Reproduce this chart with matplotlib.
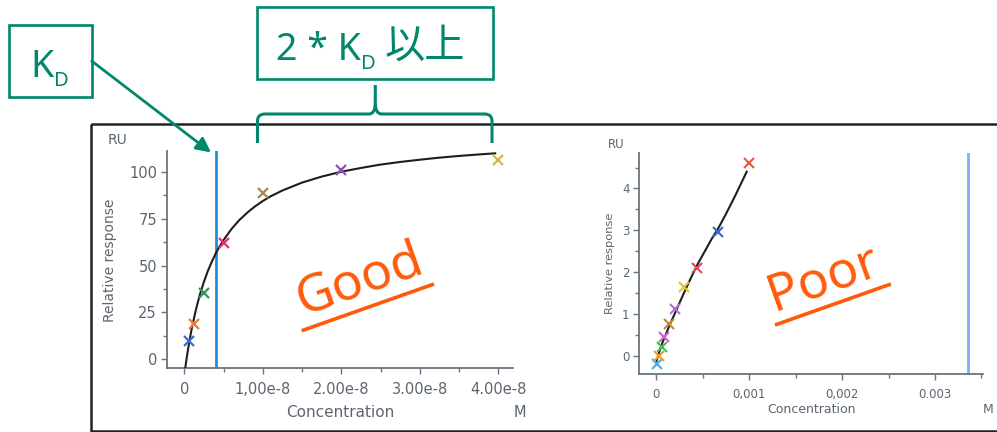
import matplotlib
matplotlib.use("Agg")
import matplotlib.pyplot as plt
from matplotlib.patches import Rectangle, FancyArrowPatch, PathPatch
from matplotlib.path import Path
from matplotlib.ticker import MultipleLocator, FixedLocator

plt.rcParams['font.family'] = ['DejaVu Sans']

# ---- data ----
# left panel (good fit), concentration in M
good_conc = [0.0625e-8, 0.125e-8, 0.25e-8, 0.5e-8, 1.0e-8, 2.0e-8, 4.0e-8]
good_resp = [9.9, 18.8, 35.5, 62.2, 88.8, 100.9, 106.2]
good_colors = ['#3a6fd0', '#f07a3a', '#2e9a55', '#e0307e', '#a88a4a', '#9050b0', '#d4b83a']
good_fit_conc = [0.012e-8, 0.03e-8, 0.05e-8, 0.0625e-8, 0.08e-8, 0.1e-8, 0.15e-8, 0.2e-8,
                 0.25e-8, 0.3e-8, 0.35e-8, 0.4e-8, 0.45e-8, 0.5e-8, 0.6e-8, 0.7e-8,
                 0.8e-8, 0.9e-8, 1.0e-8, 1.1e-8, 1.25e-8, 1.5e-8, 1.75e-8, 2.0e-8,
                 2.25e-8, 2.5e-8, 2.75e-8, 3.0e-8, 3.25e-8, 3.5e-8, 3.75e-8, 3.96e-8]
good_fit_resp = [-4.6, 0.5, 5.9, 9.0, 13.1, 17.4, 26.8, 34.7,
                 41.3, 47.1, 52.0, 56.4, 60.2, 63.6, 69.4, 74.2,
                 78.1, 81.5, 84.4, 86.9, 90.0, 94.2, 97.4, 100.0,
                 102.0, 103.8, 105.2, 106.4, 107.5, 108.4, 109.2, 109.8]
good_kd = 0.404e-8
good_xticks = [0, 1e-8, 2e-8, 3e-8, 4e-8]
good_xticklabels = ['0', '1,00e-8', '2.00e-8', '3.00e-8', '4.00e-8']
good_yticks = [0, 25, 50, 75, 100]

# right panel (poor fit)
poor_conc = [1.4e-5, 3.5e-5, 6.1e-5, 8.6e-5, 1.4e-4, 2.0e-4, 3.0e-4, 4.45e-4, 6.7e-4, 1.0e-3]
poor_resp = [-0.2, 0.0, 0.2, 0.44, 0.76, 1.11, 1.65, 2.09, 2.96, 4.61]
poor_colors = ['#4aaee0', '#f09a30', '#48c048', '#d060d0', '#c08a2a', '#b070d0',
               '#d8c830', '#e04858', '#3a64d0', '#e8583a']
poor_fit_conc = [0.0, 2.5e-5, 5e-5, 7.5e-5, 1e-4, 1.5e-4, 2e-4, 2.5e-4, 3e-4, 3.75e-4,
                 4.5e-4, 5.25e-4, 6e-4, 6.7e-4, 7.5e-4, 8.5e-4, 9.75e-4]
poor_fit_resp = [-0.16, 0.02, 0.2, 0.35, 0.48, 0.75, 1.0, 1.25, 1.5, 1.86,
                 2.2, 2.5, 2.8, 3.05, 3.38, 3.82, 4.4]
poor_kd = 0.003358
poor_xticks = [0, 0.001, 0.002, 0.003]
poor_xticklabels = ['0', '0,001', '0,002', '0.003']
poor_yticks = [0, 1, 2, 3, 4]

W, H = 997, 432
fig = plt.figure(figsize=(W / 100, H / 100), dpi=100)

gray = '#5b6570'
teal = '#00876c'
orange = '#ff5a0a'


def style_axes(ax, fs):
    for s in ['top', 'right']:
        ax.spines[s].set_visible(False)
    for s in ['left', 'bottom']:
        ax.spines[s].set_color('#6a747e')
        ax.spines[s].set_linewidth(1.3)
    ax.tick_params(which='major', length=4, width=1, color='#6a747e',
                   labelcolor=gray, labelsize=fs, pad=3)
    ax.tick_params(which='minor', length=3, width=1, color='#6a747e')
    ax.set_facecolor('none')


def px_axes(x0, x1, y0, y1):
    # pixel box -> figure fraction
    return fig.add_axes([x0 / W, (H - y1) / H, (x1 - x0) / W, (y1 - y0) / H])


# ---- left chart ----
ax1 = px_axes(166.7, 513, 150.7, 368)
style_axes(ax1, 10.5)
ax1.set_xlim(-0.224e-8, 4.187e-8)
ax1.set_ylim(-4.6, 111.2)
ax1.plot(good_fit_conc, good_fit_resp, color='#1e1e1e', lw=1.5, zorder=3)
for c, r, col in zip(good_conc, good_resp, good_colors):
    ax1.plot(c, r, marker='x', ms=7, mew=1.6, color=col, ls='none', zorder=4, clip_on=False)
ax1.axvline(good_kd, color='#1e90d8', lw=2, zorder=2)
ax1.xaxis.set_major_locator(FixedLocator(good_xticks))
ax1.set_xticklabels(good_xticklabels)
ax1.xaxis.set_minor_locator(MultipleLocator(0.5e-8))
ax1.set_yticks(good_yticks)
ax1.yaxis.set_minor_locator(MultipleLocator(12.5))
ax1.tick_params(axis='x', pad=6)
ax1.set_xlabel('Concentration', fontsize=11, color=gray)
ax1.xaxis.set_label_coords(0.5, -0.207)
ax1.xaxis.label.set_va('center')
ax1.set_ylabel('Relative response', fontsize=10, color=gray)
ax1.yaxis.set_label_coords(-0.164, 0.497)
ax1.yaxis.label.set_va('center')
ax1.text(-0.141, 1.049, 'RU', transform=ax1.transAxes, fontsize=10, color=gray,
         ha='center', va='center')
ax1.text(1.019, -0.207, 'M', transform=ax1.transAxes, fontsize=10.5, color=gray,
         ha='center', va='center')

# ---- right chart ----
ax2 = px_axes(639.3, 982.7, 153.3, 374)
style_axes(ax2, 8.5)
ax2.set_xlim(-0.00018, 0.003513)
ax2.set_ylim(-0.437, 4.84)
ax2.plot(poor_fit_conc, poor_fit_resp, color='#1e1e1e', lw=1.5, zorder=3)
for c, r, col in zip(poor_conc, poor_resp, poor_colors):
    ax2.plot(c, r, marker='x', ms=6.5, mew=1.5, color=col, ls='none', zorder=4, clip_on=False)
ax2.axvline(poor_kd, color='#7fb0f0', lw=2, zorder=2)
ax2.xaxis.set_major_locator(FixedLocator(poor_xticks))
ax2.set_xticklabels(poor_xticklabels)
ax2.xaxis.set_minor_locator(MultipleLocator(0.0005))
ax2.set_yticks(poor_yticks)
ax2.yaxis.set_minor_locator(MultipleLocator(0.5))
ax2.tick_params(axis='x', pad=6)
ax2.set_xlabel('Concentration', fontsize=9, color=gray)
ax2.xaxis.set_label_coords(0.502, -0.16)
ax2.xaxis.label.set_va('center')
ax2.set_ylabel('Relative response', fontsize=8.2, color=gray)
ax2.yaxis.set_label_coords(-0.085, 0.503)
ax2.yaxis.label.set_va('center')
ax2.text(-0.068, 1.042, 'RU', transform=ax2.transAxes, fontsize=8.5, color=gray,
         ha='center', va='center')
ax2.text(1.016, -0.16, 'M', transform=ax2.transAxes, fontsize=9, color=gray,
         ha='center', va='center')

# ---- overlay in pixel coordinates for annotations ----
ov = fig.add_axes([0, 0, 1, 1], zorder=10)
ov.set_xlim(0, W)
ov.set_ylim(H, 0)
ov.axis('off')

ov.add_patch(Rectangle((91, 124), 940, 306.5, fill=False, ec='#222222', lw=1.8, clip_on=False))

ov.add_patch(Rectangle((9, 25), 82.7, 71.7, fill=False, ec=teal, lw=1.9))
ov.add_patch(Rectangle((256.7, 7.3), 236, 72, fill=False, ec=teal, lw=1.9))

fam = ['Noto Sans', 'Noto Sans CJK JP']
r = fig.canvas.get_renderer()


def right_edge(t):
    bb = t.get_window_extent(renderer=r)
    return ov.transData.inverted().transform((bb.x1, bb.y0))[0]


tk = ov.text(30, 76.7, 'K', fontsize=27, color=teal, family=fam, va='baseline')
ov.text(right_edge(tk) + 0.5, 86, 'D', fontsize=14.5, color=teal, family=fam, va='baseline')

t1 = ov.text(276, 60, '2 * K', fontsize=27, color=teal, family=fam, va='baseline')
td = ov.text(right_edge(t1) + 0.5, 69.3, 'D', fontsize=14.5, color=teal, family=fam, va='baseline')
ov.text(right_edge(td) + 8, 58, '以上', fontsize=29, color=teal, family=fam, va='baseline')

ov.add_patch(FancyArrowPatch((91.7, 61), (211, 152.5), arrowstyle='-|>', mutation_scale=22,
                             color=teal, lw=2, shrinkA=0, shrinkB=0))

# curly brace
brace_left = Path([(257.5, 143), (257.5, 121), (257.5, 114), (265, 114),
                   (369, 114), (375.3, 114), (375.3, 103), (375.3, 85)],
                  [Path.MOVETO, Path.LINETO, Path.CURVE3, Path.CURVE3,
                   Path.LINETO, Path.CURVE3, Path.CURVE3, Path.LINETO])
brace_right = Path([(492, 143), (492, 121), (492, 114), (484.5, 114),
                    (381.6, 114), (375.3, 114), (375.3, 103)],
                   [Path.MOVETO, Path.LINETO, Path.CURVE3, Path.CURVE3,
                    Path.LINETO, Path.CURVE3, Path.CURVE3])
for p in (brace_left, brace_right):
    ov.add_patch(PathPatch(p, fill=False, ec=teal, lw=2.2, capstyle='butt', joinstyle='round'))

# Good / Poor stamps
ov.text(360, 280, 'Good', fontsize=37, color=orange, rotation=19.5, ha='center', va='center',
        family='Noto Sans')
ov.plot([301.7, 434], [330.7, 284], color=orange, lw=2.6, solid_capstyle='butt')
ov.text(823, 279, 'Poor', fontsize=37, color=orange, rotation=19.5, ha='center', va='center',
        family='Noto Sans')
ov.plot([775, 891], [325, 284], color=orange, lw=2.6, solid_capstyle='butt')

fig.savefig('out.png', dpi=100)
